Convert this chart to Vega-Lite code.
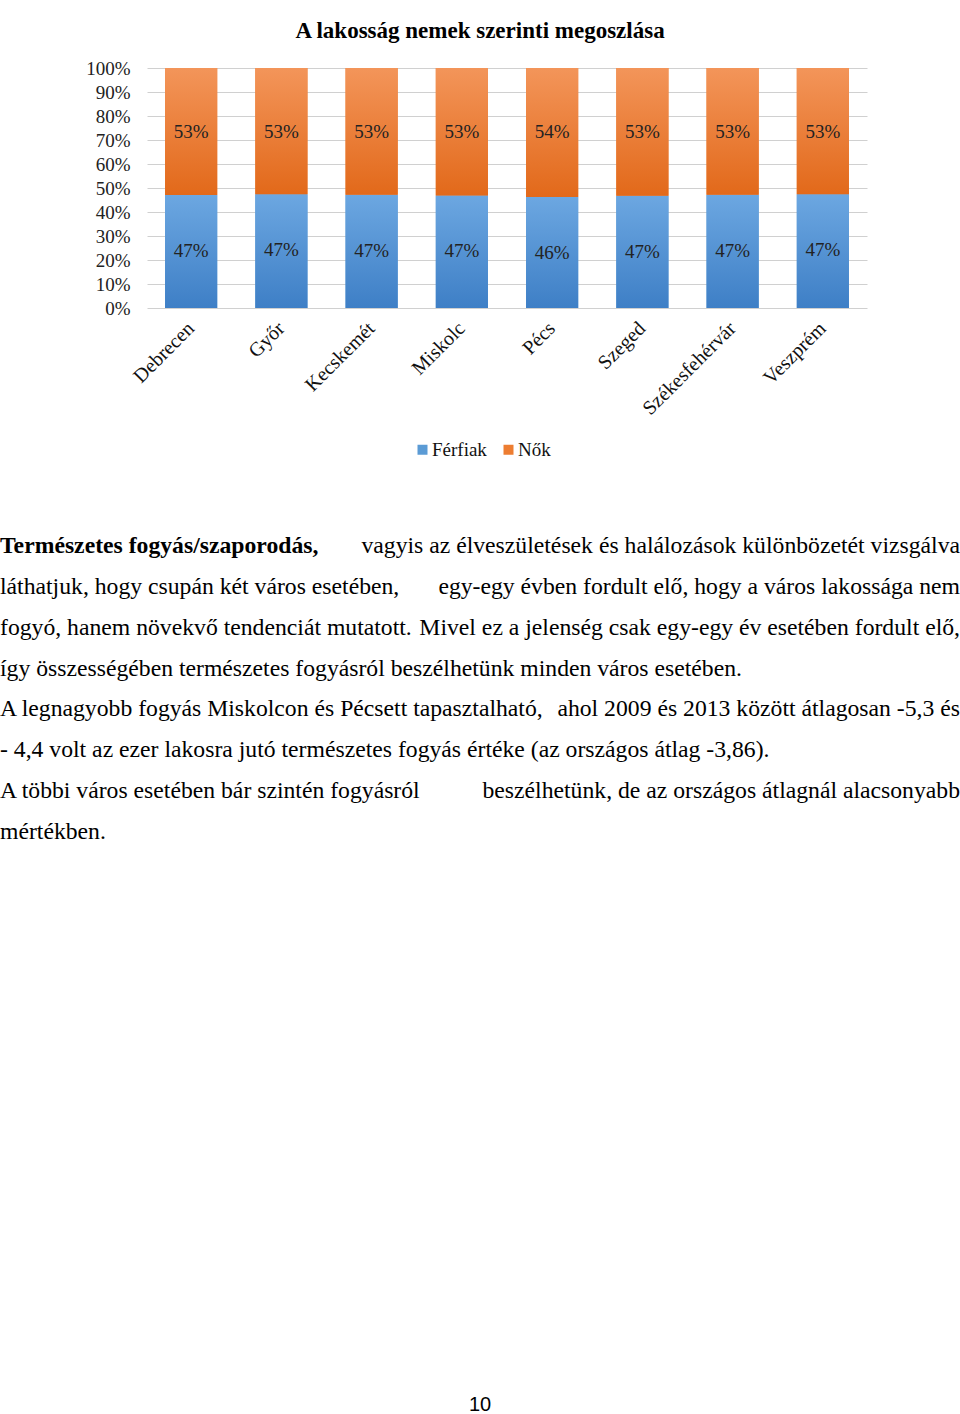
{
  "$schema": "https://vega.github.io/schema/vega-lite/v6.json",
  "background": "white",
  "padding": {"left": 0, "top": 20, "right": 0, "bottom": 0},
  "spacing": 66,
  "resolve": {"legend": {"color": "independent"}},
  "config": {
    "view": {"stroke": null},
    "font": "Liberation Serif",
    "axisY": {"tickCount": 10, "format": ".0%", "grid": true, "gridColor": "#d0d0d0", "gridWidth": 1, "domain": false, "ticks": false, "tickSize": 0, "labelPadding": 17, "labelOverlap": false, "labelFont": "Liberation Serif", "labelFontSize": 19, "labelColor": "#222", "minExtent": 146}
  },
  "vconcat": [
    {
      "spacing": 0,
      "resolve": {"legend": {"color": "independent"}},
      "hconcat": [
        {
          "width": 1,
          "height": 1,
          "data": {"values": [{"gap": 0}]},
          "mark": {"type": "point", "opacity": 0, "size": 0, "strokeWidth": 0},
          "encoding": {}
        },
        {
          "width": 720,
          "height": 240,
          "title": {"text": "A lakosság nemek szerinti megoszlása", "font": "Liberation Serif", "fontSize": 23, "fontWeight": "bold", "color": "#000", "anchor": "middle", "dx": -27, "offset": 16},
          "data": {"values": [
            {"city": "Debrecen", "sex": "Férfiak", "v": 0.471}, {"city": "Debrecen", "sex": "Nők", "v": 0.529},
            {"city": "Győr", "sex": "Férfiak", "v": 0.474}, {"city": "Győr", "sex": "Nők", "v": 0.526},
            {"city": "Kecskemét", "sex": "Férfiak", "v": 0.472}, {"city": "Kecskemét", "sex": "Nők", "v": 0.528},
            {"city": "Miskolc", "sex": "Férfiak", "v": 0.469}, {"city": "Miskolc", "sex": "Nők", "v": 0.531},
            {"city": "Pécs", "sex": "Férfiak", "v": 0.463}, {"city": "Pécs", "sex": "Nők", "v": 0.537},
            {"city": "Szeged", "sex": "Férfiak", "v": 0.468}, {"city": "Szeged", "sex": "Nők", "v": 0.532},
            {"city": "Székesfehérvár", "sex": "Férfiak", "v": 0.472}, {"city": "Székesfehérvár", "sex": "Nők", "v": 0.528},
            {"city": "Veszprém", "sex": "Férfiak", "v": 0.474}, {"city": "Veszprém", "sex": "Nők", "v": 0.526}
          ]},
          "encoding": {
            "x": {"field": "city", "type": "nominal", "sort": null, "title": null,
              "scale": {"paddingInner": 0.422, "paddingOuter": 0.2},
              "axis": {"labelAngle": -45, "labelAlign": "right", "labelBaseline": "middle", "labelFont": "Liberation Serif", "labelFontSize": 20, "labelColor": "#111", "labelPadding": 17, "ticks": false, "tickSize": 0, "domain": false, "labelLimit": 300}}
          },
          "layer": [
            {
              "mark": {"type": "bar"},
              "encoding": {
                "y": {"field": "v", "type": "quantitative", "stack": "zero", "title": null, "scale": {"domain": [0, 1], "nice": false}},
                "order": {"field": "sex", "sort": "ascending"},
                "color": {"field": "sex", "type": "nominal",
                  "scale": {"domain": ["Férfiak", "Nők"], "range": ["#5b9bd5", "#ed7d31"]},
                  "legend": {"orient": "none", "legendX": 266, "legendY": 372, "direction": "horizontal", "title": null, "symbolType": "square", "symbolSize": 100, "symbolStrokeWidth": 0, "labelFont": "Liberation Serif", "labelFontSize": 19, "labelColor": "#111", "labelOffset": 0, "columnPadding": 12}}
              }
            },
            {
              "mark": {"type": "bar"},
              "encoding": {
                "y": {"field": "v", "type": "quantitative", "stack": "zero", "title": null},
                "detail": {"field": "sex"},
                "order": {"field": "sex", "sort": "ascending"},
                "color": {
                  "condition": {"test": "datum.sex === 'Nők'", "value": {"gradient": "linear", "x1": 0, "y1": 0, "x2": 0, "y2": 1, "stops": [{"offset": 0, "color": "#f3955a"}, {"offset": 1, "color": "#e2691a"}]}},
                  "value": {"gradient": "linear", "x1": 0, "y1": 0, "x2": 0, "y2": 1, "stops": [{"offset": 0, "color": "#6ca7e1"}, {"offset": 1, "color": "#3e7fc6"}]}
                }
              }
            },
            {
              "transform": [
                {"stack": "v", "groupby": ["city"], "sort": [{"field": "sex", "order": "ascending"}], "as": ["v0", "v1"]},
                {"filter": "datum.sex === 'Férfiak'"}
              ],
              "mark": {"type": "text", "baseline": "middle", "align": "center", "dy": 56, "font": "Liberation Serif", "fontSize": 19, "color": "#222"},
              "encoding": {
                "y": {"field": "v1", "type": "quantitative", "stack": null, "title": null},
                "text": {"field": "v", "type": "quantitative", "format": ".0%"}
              }
            },
            {
              "transform": [
                {"stack": "v", "groupby": ["city"], "sort": [{"field": "sex", "order": "ascending"}], "as": ["v0", "v1"]},
                {"filter": "datum.sex === 'Nők'"}
              ],
              "mark": {"type": "text", "baseline": "middle", "align": "center", "dy": 64, "font": "Liberation Serif", "fontSize": 19, "color": "#222"},
              "encoding": {
                "y": {"field": "v1", "type": "quantitative", "stack": null, "title": null},
                "text": {"field": "v", "type": "quantitative", "format": ".0%"}
              }
            }
          ]
        }
      ]
    },
    {
      "width": 960,
      "height": 887,
      "data": {"values": [
        {"line": 1, "part": "bold", "text": "Természetes fogyás/szaporodás,"},
        {"line": 1, "part": "right", "text": "vagyis az élveszületések és halálozások különbözetét vizsgálva"},
        {"line": 2, "part": "left", "text": "láthatjuk, hogy csupán két város esetében,"},
        {"line": 2, "part": "right", "text": "egy-egy évben fordult elő, hogy a város lakossága nem"},
        {"line": 3, "part": "left", "text": "fogyó, hanem növekvő tendenciát mutatott."},
        {"line": 3, "part": "right", "text": "Mivel ez a jelenség csak egy-egy év esetében fordult elő,"},
        {"line": 4, "part": "left", "text": "így összességében természetes fogyásról beszélhetünk minden város esetében."},
        {"line": 5, "part": "left", "text": "A legnagyobb fogyás Miskolcon és Pécsett tapasztalható,"},
        {"line": 5, "part": "right", "text": "ahol 2009 és 2013 között átlagosan -5,3 és"},
        {"line": 6, "part": "left", "text": "- 4,4 volt az ezer lakosra jutó természetes fogyás értéke (az országos átlag -3,86)."},
        {"line": 7, "part": "left", "text": "A többi város esetében bár szintén fogyásról"},
        {"line": 7, "part": "right", "text": "beszélhetünk, de az országos átlagnál alacsonyabb"},
        {"line": 8, "part": "left", "text": "mértékben."},
        {"line": 0, "part": "page", "text": "10"}
      ]},
      "layer": [
        {
          "transform": [{"filter": "datum.part === 'left'"}],
          "mark": {"type": "text", "align": "left", "baseline": "middle", "font": "Liberation Serif", "fontSize": 23.7, "color": "#000"},
          "encoding": {
            "x": {"value": 0},
            "y": {"field": "line", "type": "quantitative", "scale": {"domain": [0.5, 22.267], "reverse": true, "nice": false, "zero": false}, "axis": null},
            "text": {"field": "text"}
          }
        },
        {
          "transform": [{"filter": "datum.part === 'bold'"}],
          "mark": {"type": "text", "align": "left", "baseline": "middle", "font": "Liberation Serif", "fontSize": 23.7, "fontWeight": "bold", "color": "#000"},
          "encoding": {
            "x": {"value": 0},
            "y": {"field": "line", "type": "quantitative", "axis": null},
            "text": {"field": "text"}
          }
        },
        {
          "transform": [{"filter": "datum.part === 'right'"}],
          "mark": {"type": "text", "align": "right", "baseline": "middle", "font": "Liberation Serif", "fontSize": 23.7, "color": "#000"},
          "encoding": {
            "x": {"value": "width"},
            "y": {"field": "line", "type": "quantitative", "axis": null},
            "text": {"field": "text"}
          }
        },
        {
          "transform": [{"filter": "datum.part === 'page'"}],
          "mark": {"type": "text", "align": "center", "baseline": "alphabetic", "dy": -2, "font": "Liberation Sans", "fontSize": 20, "color": "#000"},
          "encoding": {
            "x": {"datum": 0.5, "type": "quantitative", "scale": {"domain": [0, 1], "nice": false, "zero": false}, "axis": null},
            "y": {"value": "height"},
            "text": {"field": "text"}
          }
        }
      ]
    }
  ]
}
